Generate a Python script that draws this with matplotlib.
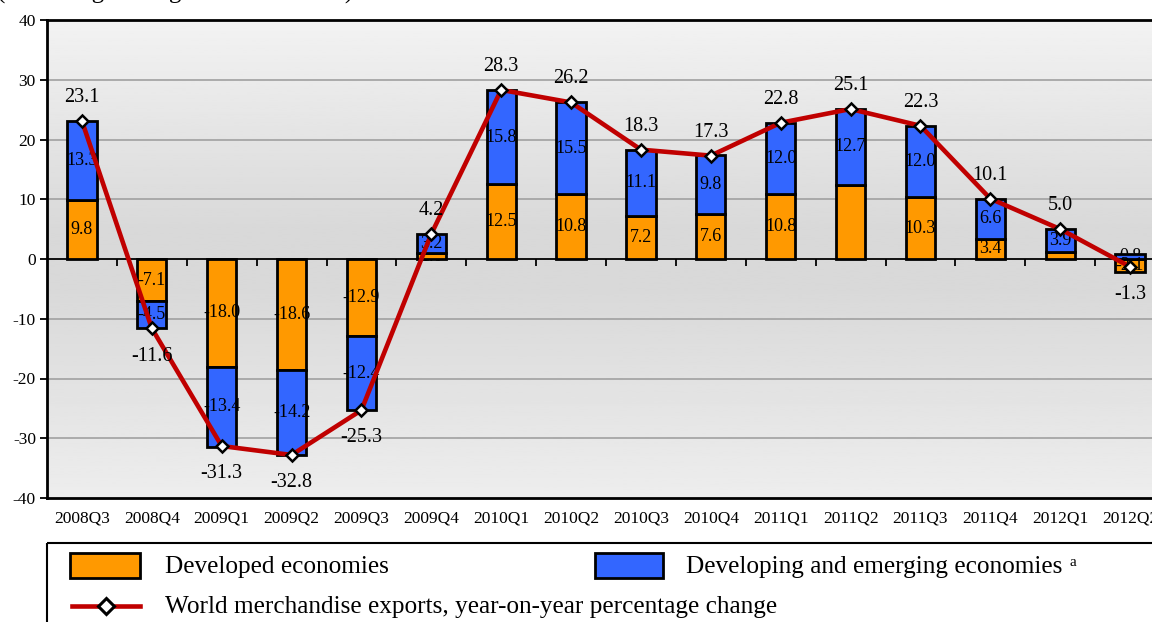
import matplotlib
matplotlib.use('Agg')
import matplotlib.pyplot as plt
import numpy as np
from matplotlib.patches import Rectangle
from matplotlib.lines import Line2D

plt.rcParams['font.family'] = ['Liberation Serif', 'DejaVu Serif']
plt.rcParams['axes.unicode_minus'] = False

quarters = ['2008Q3', '2008Q4', '2009Q1', '2009Q2', '2009Q3', '2009Q4',
            '2010Q1', '2010Q2', '2010Q3', '2010Q4', '2011Q1', '2011Q2',
            '2011Q3', '2011Q4', '2012Q1', '2012Q2']
developed = [9.8, -7.1, -18.0, -18.6, -12.9, 1.0, 12.5, 10.8, 7.2, 7.6,
             10.8, 12.4, 10.3, 3.4, 1.1, -2.1]
developing = [13.3, -4.5, -13.4, -14.2, -12.4, 3.2, 15.8, 15.5, 11.1, 9.8,
              12.0, 12.7, 12.0, 6.6, 3.9, 0.8]
world = [23.1, -11.6, -31.3, -32.8, -25.3, 4.2, 28.3, 26.2, 18.3, 17.3,
         22.8, 25.1, 22.3, 10.1, 5.0, -1.3]
hidden_labels = [('developed', '2011Q2')]

ORANGE = '#FF9900'
BLUE = '#3366FF'
RED = '#C00000'

W, H = 1152, 622
fig = plt.figure(figsize=(W / 100, H / 100), dpi=100)
ax = fig.add_axes([47 / W, 1 - 498 / H, 1118 / W, 478 / H])

x = np.arange(len(quarters))
dev = np.array(developed)
dng = np.array(developing)
# developing sits on top of developed when same sign, else starts at zero
bottom2 = np.where(np.sign(dev) == np.sign(dng), dev, 0)

# background gradient (light top, darker around zero, light bottom)
yy = np.linspace(40, -40, 200)
shade = np.interp(yy, [-40, -5, 5, 40], [0.93, 0.85, 0.85, 0.95])
ax.imshow(shade[:, None], extent=(-0.5, 15.5, -40, 40), aspect='auto',
          cmap='gray', vmin=0, vmax=1, zorder=0)

for g in [-30, -20, -10, 10, 20, 30]:
    ax.axhline(g, color='#a0a0a0', lw=1.2, zorder=1)
ax.axhline(0, color='black', lw=1.3, zorder=2)
ax.vlines(x[:-1] + 0.5, -1.1, 0, color='black', lw=1.3, zorder=2)

bw = 0.42
ax.bar(x, dev, bw, color=ORANGE, edgecolor='black', lw=2, zorder=3)
ax.bar(x, dng, bw, bottom=bottom2, color=BLUE, edgecolor='black', lw=2, zorder=3)

# segment labels
for i, q in enumerate(quarters):
    for name, v, b in [('developed', dev[i], 0), ('developing', dng[i], bottom2[i])]:
        if (name, q) in hidden_labels:
            continue
        z = 2.5 if abs(v) < 1.5 else 4
        ax.text(i, b + v / 2, f'{v:.1f}', ha='center', va='center',
                fontsize=13, zorder=z)

ax.plot(x, world, color=RED, lw=3.3, marker='D', ms=6.5, mfc='white',
        mec='black', mew=1.8, zorder=5)

for i, v in enumerate(world):
    off = 17 if v > 0 else -20
    ax.annotate(f'{v:.1f}', (i, v), xytext=(0, off), textcoords='offset points',
                ha='center', va='center', fontsize=14.5, zorder=6)

ax.set_xlim(-0.5, 15.5)
ax.set_ylim(-40, 40)
ax.set_yticks(range(-40, 41, 10))
ax.tick_params(axis='y', length=5, width=1.3, labelsize=12.5, pad=3)
ax.set_xticks(x)
ax.set_xticklabels(quarters)
ax.tick_params(axis='x', length=0, labelsize=12.5, pad=9)
for s in ax.spines.values():
    s.set_linewidth(2)
    s.set_color('black')

# title, cut off at the top of the image
fig.text(-3 / W, 1 + 1 / H, '(Percentage change in dollar terms)',
         fontsize=18, ha='left', va='baseline')

# legend box
lax = fig.add_axes([0, 0, 1, 1])
lax.set_xlim(0, W)
lax.set_ylim(H, 0)
lax.axis('off')
lax.add_patch(Rectangle((47, 543), 1200, 200, fill=False, ec='black', lw=1.5))
lax.add_patch(Rectangle((70, 553), 70, 25, fc=ORANGE, ec='black', lw=2))
lax.add_patch(Rectangle((595, 553), 68, 25, fc=BLUE, ec='black', lw=2))
lax.add_line(Line2D([72, 140], [606, 606], color=RED, lw=3.3))
lax.add_line(Line2D([106], [606], marker='D', ms=8, mfc='white', mec='black',
                    mew=2.2, color=RED))
lax.text(165, 567, 'Developed economies', fontsize=18.2, va='center')
lax.text(686, 567, 'Developing and emerging economies', fontsize=18.2, va='center')
lax.text(1069, 562, 'a', fontsize=11, va='center')
lax.text(165, 607, 'World merchandise exports, year-on-year percentage change',
         fontsize=18.2, va='center')

fig.savefig('out.png', dpi=100)
